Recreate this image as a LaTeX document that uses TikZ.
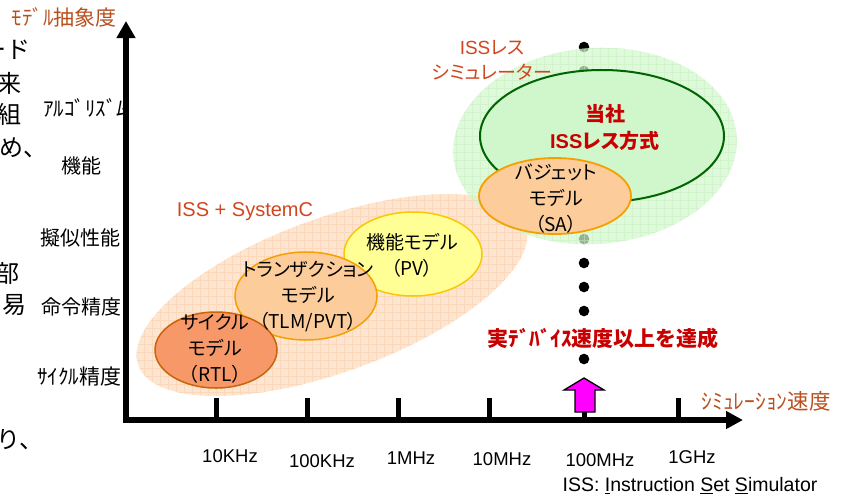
\documentclass[tikz,border=0pt]{standalone}
\usepackage{fontspec}
\setmainfont{Liberation Sans}
\newfontfamily\jp{Noto Sans CJK JP}
\newfontfamily\jpp[RawFeature=+palt]{Noto Sans CJK JP}
\usetikzlibrary{arrows.meta}
\definecolor{axbrown}{RGB}{185,80,30}
\definecolor{issred}{RGB}{210,70,30}
\definecolor{dred}{RGB}{200,0,0}
\definecolor{peach}{RGB}{253,229,208}
\definecolor{peachgrid}{RGB}{251,216,188}
\definecolor{lgreen}{RGB}{212,247,206}
\definecolor{lgreengrid}{RGB}{196,240,190}
\definecolor{ingreen}{RGB}{208,246,203}
\definecolor{dgreen}{RGB}{0,100,0}
\definecolor{rtlfill}{RGB}{247,152,105}
\definecolor{rtlline}{RGB}{200,100,10}
\definecolor{tlmfill}{RGB}{252,205,155}
\definecolor{tlmline}{RGB}{245,160,0}
\definecolor{pvfill}{RGB}{255,255,150}
\definecolor{pvline}{RGB}{250,200,0}
\definecolor{magarrow}{RGB}{255,0,255}
\begin{document}
\begin{tikzpicture}[x=1pt,y=-1pt,
  frag/.style={inner sep=0, font=\jp\fontsize{24}{28}\selectfont},
  ylbl/.style={inner sep=0, font=\jp\fontsize{20}{24}\selectfont},
  ell/.style={inner sep=0, align=center, font=\jpp\fontsize{19}{26}\selectfont},
  ticklbl/.style={inner sep=0, font=\fontsize{18.5}{22}\selectfont},
  tickline/.style={line width=5pt},
  axisline/.style={line width=5.5pt, line join=miter},
  gridln/.style={line width=0.5pt, step=8pt}]
\clip (0,0) rectangle (850,498);
\fill[white] (0,0) rectangle (850,498);

% cut-off text fragments at the left edge
\node[frag, anchor=east] (f1) at (31,50) {ード};
\node[frag, anchor=east] (f2) at (22,83) {来};
\node[frag, anchor=east] (f3) at (22,114) {組};
\node[frag, anchor=west] (f4) at (-1,148) {め、};
\node[frag, anchor=east] (f5) at (20,273) {部};
\node[frag] (f6) at (14,305) {易};
\node[frag, anchor=west] (f7) at (-4,440) {り、};

% ISS + SystemC region
\path[fill=peach, rotate around={20:(332,295)}] (332,295) ellipse [x radius=206, y radius=77];
\begin{scope}
\clip[rotate around={20:(332,295)}] (332,295) ellipse [x radius=206, y radius=77];
\draw[peachgrid, gridln] (100,150) grid (560,420);
\end{scope}

% PV / TLM / RTL models
\path[fill=pvfill, draw=pvline, line width=1.5pt] (413,254) ellipse [x radius=69, y radius=42];
\path[fill=tlmfill, draw=tlmline, line width=1.5pt] (306,296) ellipse [x radius=71, y radius=44];
\path[fill=rtlfill, draw=rtlline, line width=1.5pt] (216,350) ellipse [x radius=61, y radius=38];

\node[ell] (pv) at (412,255) {機能モデル\\{\jpp （}PV{\jpp ）}};
\node[ell] (tlm) at (308,297) {トランザクション\\モデル\\{\jpp （}TLM/PVT{\jpp ）}};
\node[ell] (rtl) at (215,349) {サイクル\\モデル\\{\jpp （}RTL{\jpp ）}};
\node[inner sep=0, text=issred, font=\fontsize{20}{23}\selectfont] (isssc) at (245,212) {ISS + SystemC};

% dotted line at 100MHz
\foreach \yy in {47,71,...,311} \fill (584,\yy) circle [radius=5.3];
\fill (584,359) circle [radius=5.3];

% ISS-less region
\path[fill=lgreen, fill opacity=0.72, rotate around={4:(595,146)}] (595,146) ellipse [x radius=142, y radius=98];
\begin{scope}
\clip[rotate around={4:(595,146)}] (595,146) ellipse [x radius=142, y radius=98];
\draw[lgreengrid, gridln, opacity=0.5] (440,40) grid (745,250);
\end{scope}
\path[fill=ingreen, draw=dgreen, line width=2pt] (602,136) ellipse [x radius=122, y radius=66];
\path[fill=tlmfill, draw=tlmline, line width=1.8pt] (555,196) ellipse [x radius=76, y radius=38];

\node[ell, text=issred, font=\jpp\fontsize{19}{25}\selectfont] (isslsim) at (492,60) {{\rmfamily ISS}レス\\シミュレーター};
\node[ell, text=dred, font=\jpp\bfseries\fontsize{20}{27}\selectfont] (ours) at (605,127) {当社\\{\rmfamily\bfseries ISS}レス方式};
\node[ell] (sa) at (556,199) {バジェット\\モデル\\{\jpp （}SA{\jpp ）}};

% axes
\coordinate (ytop) at (126,21);
\coordinate (orig) at (126,420);
\coordinate (xend) at (743,420);
\foreach \tx/\nm in {216/t1,307/t2,398/t3,489/t4,584/t5,678/t6}{
  \coordinate (\nm b) at (\tx,420);
  \coordinate (\nm a) at (\tx,398);
  \draw[tickline] (\nm b) -- (\nm a);
}

% y labels (behind axis line)
\node[ylbl, font=\jp\fontsize{21}{24}\selectfont] (alg) at (85,108) {ｱﾙｺﾞﾘｽﾞﾑ};
\node[ylbl] (func) at (81,166) {機能};
\node[ylbl] (pseudo) at (80,238) {擬似性能};
\node[ylbl] (instr) at (81,307) {命令精度};
\node[ylbl, font=\jp\fontsize{21}{24}\selectfont] (cycle) at (79,377) {ｻｲｸﾙ精度};

\draw[axisline, {Triangle[length=17pt,width=18pt]}-{Triangle[length=17pt,width=17pt]}] (ytop) -- (orig) -- (xend);

\node[ylbl, text=axbrown, font=\jp\fontsize{21}{24}\selectfont] (ytitle) at (64,17) {ﾓﾃﾞﾙ抽象度};
\node[ylbl, text=axbrown, font=\jp\fontsize{21.5}{24}\selectfont] (xtitle) at (766,401) {ｼﾐｭﾚｰｼｮﾝ速度};

% tick labels
\node[ticklbl] (l1) at (230,456) {10KHz};
\node[ticklbl] (l2) at (322,461) {100KHz};
\node[ticklbl] (l3) at (411,458) {1MHz};
\node[ticklbl] (l4) at (502,459) {10MHz};
\node[ticklbl] (l5) at (600,460) {100MHz};
\node[ticklbl] (l6) at (692,457) {1GHz};
\node[inner sep=0, font=\fontsize{19.5}{23}\selectfont] (issdef) at (690,486) {ISS: \underline{I}nstruction \underline{S}et \underline{S}imulator};

% magenta arrow
\draw[fill=magarrow, line width=1.3pt, line join=miter]
  (575,412) -- (575,390) -- (564,390) -- (584,378) -- (604,390) -- (595,390) -- (595,412) -- cycle;

\node[inner sep=0, text=dred, font=\jp\bfseries\fontsize{21}{24}\selectfont] (achieve) at (603,338) {実ﾃﾞﾊﾞｲｽ速度以上を達成};
\end{tikzpicture}
\end{document}
